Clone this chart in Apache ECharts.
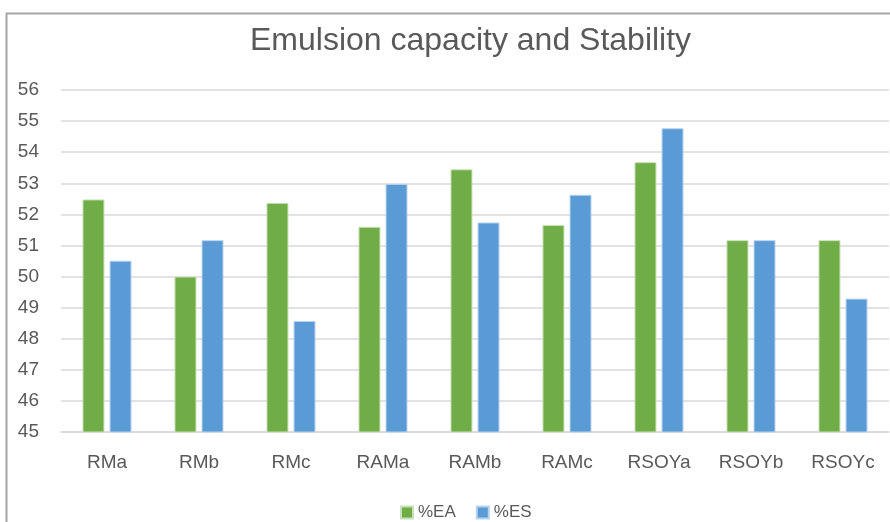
<!DOCTYPE html>
<html><head><meta charset="utf-8">
<script src="https://cdn.jsdelivr.net/npm/echarts@6/dist/echarts.min.js"></script>
<style>html,body{margin:0;padding:0;background:#fff}#c{width:890px;height:522px}</style>
</head><body><div id="c"></div>
<script>
const categories = ['RMa','RMb','RMc','RAMa','RAMb','RAMc','RSOYa','RSOYb','RSOYc'];
const seriesEA = [52.48, 50.0, 52.37, 51.6, 53.45, 51.66, 53.68, 51.17, 51.17];
const seriesES = [50.51, 51.17, 48.57, 52.98, 51.74, 52.63, 54.77, 51.17, 49.29];
const yMin = 45, yMax = 56, yStep = 1;
const font = 'Liberation Sans, Arial, sans-serif';
const chart = echarts.init(document.getElementById('c'));
chart.setOption({
  animation: false,
  backgroundColor: '#fff',
  graphic: [{type:'rect', shape:{x:6.5,y:13.5,width:900,height:600}, style:{fill:'none', stroke:'#a6a6a6', lineWidth:2}, silent:true}],
  title: {text:'Emulsion capacity and Stability', left:245, top:20,
    textStyle:{fontFamily:font, fontSize:32, fontWeight:'normal', color:'#595959'}},
  legend: {top:499, left:395, itemWidth:12, itemHeight:12, itemGap:20, icon:'rect',
    textStyle:{fontFamily:font, fontSize:17, color:'#595959'}},
  grid: {left:61, right:1, top:90, bottom:90, containLabel:false},
  xAxis: {type:'category', data:categories,
    axisLine:{lineStyle:{color:'#d9d9d9', width:1.5}}, axisTick:{show:false},
    axisLabel:{fontFamily:font, fontSize:19, color:'#595959', margin:21}},
  yAxis: {type:'value', min:yMin, max:yMax, interval:yStep,
    axisLine:{show:false}, axisTick:{show:false},
    splitLine:{lineStyle:{color:'#d9d9d9', width:1.5}},
    axisLabel:{fontFamily:font, fontSize:19, color:'#595959', margin:22}},
  series: [
    {name:'%EA', type:'bar', data:seriesEA, barWidth:22, barGap:'23%',
      itemStyle:{color:'#70ad47', borderColor:'#c9e0bb', borderWidth:1}},
    {name:'%ES', type:'bar', data:seriesES, barWidth:22,
      itemStyle:{color:'#5b9bd5', borderColor:'#b9d3ee', borderWidth:1}}
  ]
});
</script></body></html>
